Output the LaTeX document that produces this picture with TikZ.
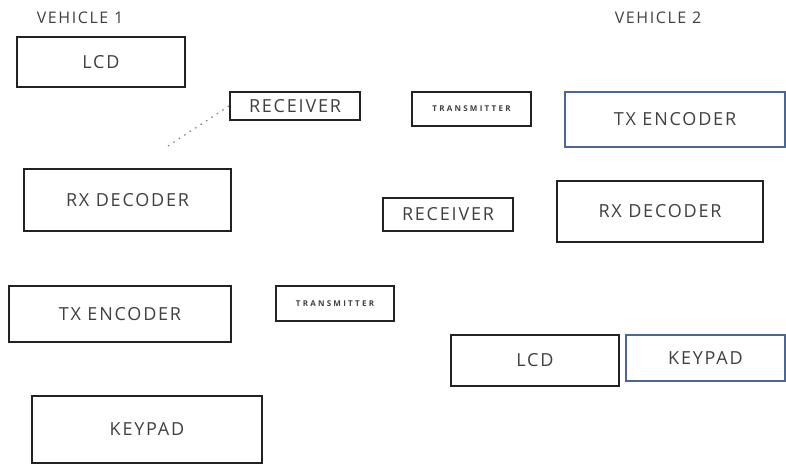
\documentclass[tikz,border=0pt]{standalone}
\usepackage{fontspec}
\newfontfamily\boxfont[LetterSpace=10]{Open Sans}
\newfontfamily\tinyfont[LetterSpace=28]{Open Sans}
\definecolor{txtgray}{HTML}{404040}
\definecolor{boxline}{HTML}{222222}
\definecolor{boxblue}{HTML}{4A6896}
\begin{document}
\begin{tikzpicture}[x=1pt,y=-1pt,
  blk/.style={draw=boxline,line width=2pt,inner sep=0pt,text=txtgray,
    font=\boxfont\fontsize{18}{20}\selectfont},
  blu/.style={blk,draw=boxblue},
  tiny/.style={blk,font=\tinyfont\bfseries\fontsize{8}{9}\selectfont},
  vlabel/.style={inner sep=0pt,text=txtgray,font=\boxfont\fontsize{16}{18}\selectfont},
  dotline/.style={draw=gray,dash pattern=on 1.5pt off 5pt,line width=1.2pt}]
\useasboundingbox[fill=white] (0,0) rectangle (786,464);
\node[vlabel] (v1) at (80,18) {VEHICLE 1};
\node[vlabel] (v2) at (658,18) {VEHICLE 2};
\node[blk,minimum width=168pt,minimum height=50pt] (lcd1) at (101,62) {LCD};
\node[blk,minimum width=130pt,minimum height=28pt] (rec1) at (295,106) {RECEIVER};
\node[tiny,minimum width=119pt,minimum height=34pt] (tra2) at (471.5,109) {TRANSMITTER};
\node[blu,minimum width=220pt,minimum height=55pt] (txe2) at (675,119.5) {TX ENCODER};
\node[blk,minimum width=207pt,minimum height=62pt] (rxd1) at (127.5,200) {RX DECODER};
\node[blk,minimum width=130pt,minimum height=33pt] (rec2) at (448,214.5) {RECEIVER};
\node[blk,minimum width=206pt,minimum height=61pt] (rxd2) at (660,211.5) {RX DECODER};
\node[blk,minimum width=222pt,minimum height=56pt] (txe1) at (120,314) {TX ENCODER};
\node[tiny,minimum width=118pt,minimum height=35pt] (tra1) at (335,303.5) {TRANSMITTER};
\node[blk,minimum width=168pt,minimum height=51pt] (lcd2) at (535,360.5) {LCD};
\node[blu,minimum width=159pt,minimum height=46pt] (key2) at (705.5,358) {KEYPAD};
\node[blk,minimum width=230pt,minimum height=67pt] (key1) at (147,429.5) {KEYPAD};
\coordinate (dotend) at (168,146);
\draw[dotline] (rec1.west) -- (dotend);
\end{tikzpicture}
\end{document}
